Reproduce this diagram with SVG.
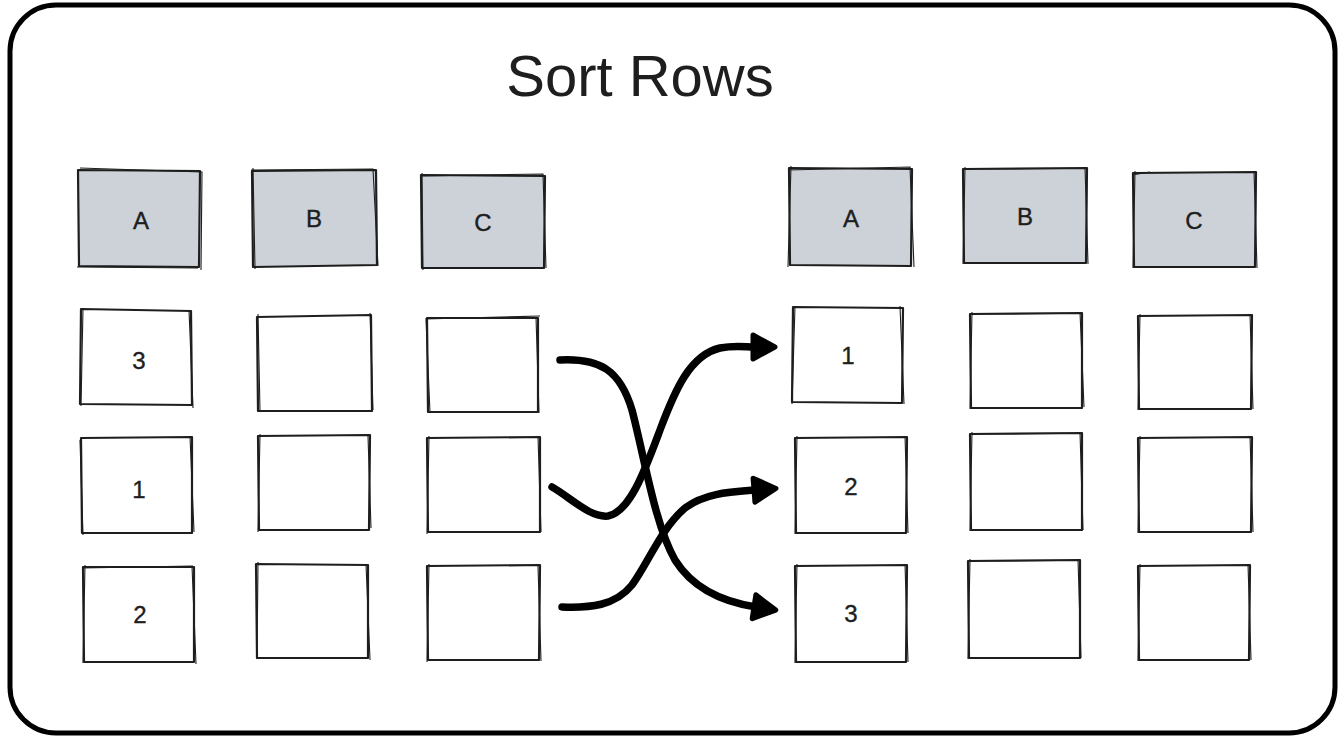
<svg xmlns="http://www.w3.org/2000/svg" width="1338" height="737" viewBox="0 0 1338 737">
<style>
  .frame{fill:#fff;stroke:#000;stroke-width:5}
  .cell{fill:#fff;stroke:#1e1e1e;stroke-width:2.2;stroke-linejoin:round}
  .hdr{fill:#cdd2d9;stroke:#1e1e1e;stroke-width:2.2;stroke-linejoin:round}
  .sk{fill:none;stroke:#1e1e1e;stroke-width:1.1}
  .lbl{font-family:"Liberation Sans",sans-serif;font-size:24px;fill:#1e1e1e;stroke:#1e1e1e;stroke-width:0.4;text-anchor:middle;dominant-baseline:central}
  .title{font-family:"Liberation Sans",sans-serif;font-size:58px;fill:#1e1e1e;text-anchor:middle}
  .arr{fill:none;stroke:#000;stroke-width:7.5;stroke-linecap:round;stroke-linejoin:round}
</style>
<defs>
  <marker id="head" markerUnits="userSpaceOnUse" markerWidth="40" markerHeight="40" refX="2" refY="0" viewBox="-5 -20 40 40" orient="auto" overflow="visible">
    <path d="M0,-12 L22,0 L0,12 Z" fill="#000" stroke="#000" stroke-width="5" stroke-linejoin="round"/>
  </marker>
</defs>
<rect class="frame" x="10" y="5" width="1325" height="728" rx="46"/>
<text class="title" x="640" y="96">Sort Rows</text>

<g id="hL_A"><path class="hdr" d="M78,170 L200,171 L199,267 L79,266 Z"/><path class="sk" d="M80,168 L202,172 L201,270 M77,267 L198,268"/><text class="lbl" x="141" y="220">A</text></g>
<g id="hL_B"><path class="hdr" d="M252,171 L376,170 L377,265 L253,267 Z"/><path class="sk" d="M253,168 L255,269 M251,170 L373,169 L378,266"/><text class="lbl" x="314" y="218">B</text></g>
<g id="hL_C"><path class="hdr" d="M421,175 L545,176 L544,268 L422,268 Z"/><path class="sk" d="M422,173 L423,270 M420,176 L543,174 L546,268"/><text class="lbl" x="483" y="222">C</text></g>

<g id="L1A"><path class="cell" d="M81,309 L191,311 L192,405 L80,404 Z"/><path class="sk" d="M83,308 L81,406 M189,310 L193,408"/><text class="lbl" x="139" y="360">3</text></g>
<g id="L1B"><path class="cell" d="M257,317 L371,315 L372,411 L258,411 Z"/><path class="sk" d="M258,314 L260,412 M370,313 L373,410"/></g>
<g id="L1C"><path class="cell" d="M427,318 L538,318 L538,412 L428,412 Z"/><path class="sk" d="M426,320 L430,413 M425,319 L540,316 M536,317 L539,413"/></g>

<g id="L2A"><path class="cell" d="M81,438 L192,437 L192,533 L82,533 Z"/><path class="sk" d="M80,440 L83,535 M190,436 L194,532"/><text class="lbl" x="139" y="489">1</text></g>
<g id="L2B"><path class="cell" d="M258,436 L370,435 L369,530 L259,530 Z"/><path class="sk" d="M260,434 L258,532 M368,436 L371,528"/></g>
<g id="L2C"><path class="cell" d="M427,438 L540,437 L540,532 L428,532 Z"/><path class="sk" d="M429,436 L427,534 M538,436 L541,532"/></g>

<g id="L3A"><path class="cell" d="M83,567 L194,567 L194,662 L84,662 Z"/><path class="sk" d="M85,565 L83,663 M192,566 L196,664 M82,568 L193,566"/><text class="lbl" x="140" y="614">2</text></g>
<g id="L3B"><path class="cell" d="M256,564 L368,565 L368,658 L257,658 Z"/><path class="sk" d="M258,562 L257,659 M366,564 L370,660"/></g>
<g id="L3C"><path class="cell" d="M427,566 L540,565 L539,660 L428,660 Z"/><path class="sk" d="M429,564 L427,662 M538,566 L541,661"/></g>

<g id="hR_A"><path class="hdr" d="M789,168 L912,169 L911,266 L790,265 Z"/><path class="sk" d="M791,166 L788,267 M788,170 L910,167 L914,267"/><text class="lbl" x="851" y="218">A</text></g>
<g id="hR_B"><path class="hdr" d="M963,169 L1087,168 L1086,263 L964,263 Z"/><path class="sk" d="M965,167 L963,264 M1085,167 L1088,264"/><text class="lbl" x="1025" y="216">B</text></g>
<g id="hR_C"><path class="hdr" d="M1133,173 L1256,172 L1255,267 L1134,267 Z"/><path class="sk" d="M1135,171 L1133,268 M1132,175 L1150,172 M1254,171 L1257,268"/><text class="lbl" x="1194" y="220">C</text></g>

<g id="R1A"><path class="cell" d="M793,307 L903,308 L902,403 L792,402 Z"/><path class="sk" d="M795,306 L792,404 M900,306 L904,404"/><text class="lbl" x="848" y="355">1</text></g>
<g id="R1B"><path class="cell" d="M970,314 L1082,313 L1082,408 L971,408 Z"/><path class="sk" d="M972,312 L970,409 M1080,312 L1084,407"/></g>
<g id="R1C"><path class="cell" d="M1138,316 L1252,315 L1251,409 L1139,409 Z"/><path class="sk" d="M1140,314 L1138,410 M1250,314 L1253,409"/></g>

<g id="R2A"><path class="cell" d="M795,438 L907,437 L906,533 L796,533 Z"/><path class="sk" d="M797,436 L795,534 M905,436 L908,533"/><text class="lbl" x="851" y="486">2</text></g>
<g id="R2B"><path class="cell" d="M970,434 L1082,433 L1082,530 L971,530 Z"/><path class="sk" d="M972,432 L970,531 M1080,432 L1083,530"/></g>
<g id="R2C"><path class="cell" d="M1138,438 L1252,437 L1251,532 L1139,532 Z"/><path class="sk" d="M1140,436 L1138,533 M1250,436 L1253,532"/></g>

<g id="R3A"><path class="cell" d="M795,566 L907,565 L906,662 L796,662 Z"/><path class="sk" d="M797,564 L795,663 M905,564 L908,662"/><text class="lbl" x="851" y="613">3</text></g>
<g id="R3B"><path class="cell" d="M968,561 L1080,560 L1080,658 L969,658 Z"/><path class="sk" d="M970,559 L968,659 M1078,559 L1081,658"/></g>
<g id="R3C"><path class="cell" d="M1138,566 L1250,565 L1249,660 L1139,660 Z"/><path class="sk" d="M1140,564 L1138,661 M1248,564 L1251,660"/></g>

<g id="connectors">
  <path class="arr" marker-end="url(#head)" d="M560,360 C600,358 620,370 632,410 C645,460 655,525 675,560 C695,592 730,603 756,607"/>
  <path class="arr" marker-end="url(#head)" d="M552,487 C570,497 590,518 608,516 C630,512 645,470 660,430 C675,390 690,355 720,348 C735,345 745,347 755,347"/>
  <path class="arr" marker-end="url(#head)" d="M562,607 C590,608 615,606 632,585 C650,560 660,530 685,508 C705,493 730,492 756,490"/>
</g>
</svg>
